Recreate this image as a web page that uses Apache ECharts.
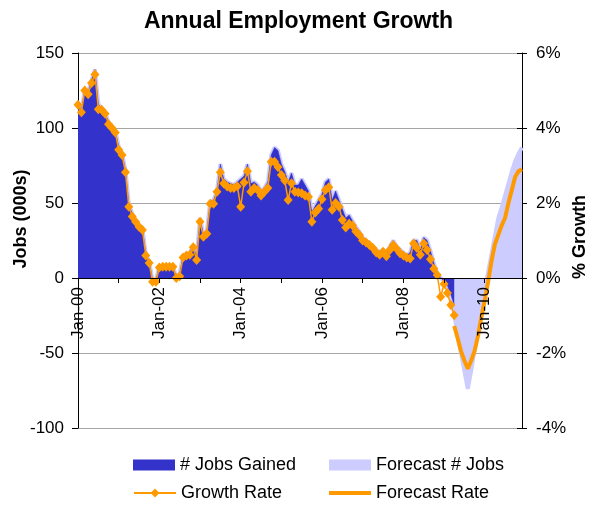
<!DOCTYPE html>
<html><head><meta charset="utf-8">
<script src="https://cdn.jsdelivr.net/npm/echarts@6/dist/echarts.min.js"></script>
<style>html,body{margin:0;padding:0;background:#fff}#c{width:597px;height:506px}</style>
</head><body><div id="c"></div>
<script>
// Categories: monthly Jan-00 .. Dec-10
const monthNames = ['Jan','Feb','Mar','Apr','May','Jun','Jul','Aug','Sep','Oct','Nov','Dec'];
const yearLabels = ['00','01','02','03','04','05','06','07','08','09','10'];
const categories = [];
yearLabels.forEach(y => monthNames.forEach(m => categories.push(m + '-' + y)));

// # Jobs Gained (000s), Jan-00 .. Apr-09
const jobsGained = [
 116,112,125,124,132,139,116,113,110,104,101,98,
 88,83,72,49,43,38,35,33,16,11,-1,-1,
 8,8,8,8,8,1,3,15,16,17,22,14,
 40,29,31,51,52,58,76,66,64,63,62,64,
 66,68,76,63,64,62,58,60,64,82,87,85,
 76,71,64,70,62,62,66,62,58,44,48,52,
 56,64,66,52,58,52,46,40,42,38,34,31,
 27,25,23,21,19,17,19,17,21,25,21,19,
 17,15,17,25,25,19,27,25,18,10,3,0,
 -2,-5,-11,-18
];
// Growth Rate (%), Jan-00 .. Apr-09
const growthRate = [
 4.62,4.42,5.0,4.9,5.2,5.43,4.5,4.49,4.38,4.1,4.0,3.88,
 3.42,3.28,2.82,1.9,1.64,1.5,1.37,1.28,0.6,0.4,-0.1,-0.1,
 0.28,0.3,0.3,0.3,0.3,0.0,0.05,0.55,0.6,0.62,0.82,0.48,
 1.5,1.1,1.18,1.98,1.98,2.3,2.82,2.52,2.44,2.4,2.4,2.45,
 1.9,2.55,2.85,2.3,2.4,2.35,2.2,2.3,2.4,3.1,3.1,2.96,
 2.75,2.6,2.08,2.53,2.3,2.28,2.26,2.2,2.17,1.5,1.75,1.85,
 2.1,2.35,2.42,1.82,2.0,1.9,1.55,1.35,1.45,1.4,1.24,1.15,
 1.0,0.95,0.88,0.8,0.68,0.62,0.7,0.58,0.75,0.88,0.78,0.66,
 0.6,0.55,0.52,0.92,0.8,0.62,0.92,0.75,0.5,0.25,0.08,-0.5,
 -0.16,-0.4,-0.72,-0.99
];
// Forecast # Jobs (000s), Apr-09 .. Dec-10
const forecastJobs = [-24,-38,-50,-62,-74,-62,-48,-34,-20,-8,4,16,28,40,47,55,63,71,78,83,87];
// Forecast Rate (%), Apr-09 .. Dec-10
const forecastRate = [-1.28,-1.6,-1.95,-2.2,-2.42,-2.2,-1.95,-1.55,-1.05,-0.6,-0.1,0.45,0.9,1.15,1.4,1.6,2.0,2.35,2.7,2.85,2.9];

const fcStart = categories.indexOf('Apr-09');
const n = categories.length;
const pad = (arr, start) => { const out = new Array(n).fill(null); arr.forEach((v,i)=>{ out[start+i]=v; }); return out; };
const jobsData = pad(jobsGained, 0);
const rateData = pad(growthRate, 0);
const fcJobsData = pad(jobsGained.slice(0, fcStart).concat(forecastJobs), 0);
const fcRateData = pad(forecastRate, fcStart);

const FONT = 'Liberation Sans, Arial, sans-serif';
const GRID_TOP = 53, GRID_BOTTOM = 78, H = 506;
const plotH = H - GRID_TOP - GRID_BOTTOM;
const zeroOffset = -plotH * (0 - (-100)) / (150 - (-100)); // move x axis up to y=0

const legendText = {fontFamily:FONT, fontSize:18, color:'#000'};
const chart = echarts.init(document.getElementById('c'), null, {renderer:'canvas'});
chart.setOption({
  animation:false,
  backgroundColor:'#fff',
  title:{text:'Annual Employment Growth', left:'center', top:5,
    textStyle:{fontFamily:FONT, fontSize:23, fontWeight:'bold', color:'#000'}},
  grid:{left:78, right:75, top:GRID_TOP, bottom:GRID_BOTTOM, containLabel:false},
  legend:[
    {left:128, top:451, itemWidth:42, itemHeight:11, textStyle:legendText,
     data:[{name:'# Jobs Gained', icon:'rect'}]},
    {left:128, top:479, itemWidth:42, itemHeight:11, textStyle:legendText,
     data:[{name:'Growth Rate'}]},
    {left:324, top:451, itemWidth:42, itemHeight:11, textStyle:legendText,
     data:[{name:'Forecast # Jobs', icon:'rect'}]},
    {left:324, top:479, itemWidth:42, itemHeight:4, textStyle:legendText,
     data:[{name:'Forecast Rate', icon:'rect'}]}
  ],
  graphic:[
    {type:'text', x:21, y:219, rotation:Math.PI/2, z:100,
     style:{text:'Jobs (000s)', font:'bold 18px ' + FONT, fill:'#000', textAlign:'center', textVerticalAlign:'middle'}},
    {type:'text', x:580, y:237, rotation:Math.PI/2, z:100,
     style:{text:'% Growth', font:'bold 18px ' + FONT, fill:'#000', textAlign:'center', textVerticalAlign:'middle'}}
  ],
  xAxis:{type:'category', data:categories, boundaryGap:false, z:10, position:'bottom', offset:zeroOffset,
    axisLine:{onZero:false, lineStyle:{color:'#000', width:1}},
    axisTick:{show:true, length:5, lineStyle:{color:'#000'}, interval:(i)=> i % 12 === 0},
    axisLabel:{rotate:90, margin:9, fontFamily:FONT, fontSize:17, color:'#000',
      interval:(i)=> i % 24 === 0},
    splitLine:{show:false}},
  yAxis:[
    {type:'value', min:-100, max:150, interval:50, position:'left',
     axisLine:{show:true, lineStyle:{color:'#000'}},
     axisTick:{show:true, length:6, lineStyle:{color:'#000'}},
     axisLabel:{fontFamily:FONT, fontSize:17, color:'#000', margin:14},
     splitLine:{show:true, lineStyle:{color:'#a6a6a6', width:1}}},
    {type:'value', min:-4, max:6, interval:2, position:'right',
     axisLine:{show:true, lineStyle:{color:'#000'}},
     axisTick:{show:true, length:5, lineStyle:{color:'#000'}},
     axisLabel:{fontFamily:FONT, fontSize:17, color:'#000', margin:14, formatter:'{value}%'},
     splitLine:{show:false}},
    {type:'value', min:-4, max:6, interval:2, position:'right',
     axisLine:{show:false},
     axisTick:{show:true, inside:true, length:5, lineStyle:{color:'#000'}},
     axisLabel:{show:false},
     splitLine:{show:false}}
  ],
  series:[
    {name:'Forecast # Jobs', type:'line', yAxisIndex:0, data:fcJobsData, z:1,
     symbol:'none', showSymbol:false,
     itemStyle:{color:'#CCCCFF'},
     lineStyle:{color:'#CCCCFF', width:4},
     areaStyle:{color:'#CCCCFF', opacity:1}},
    {name:'# Jobs Gained', type:'line', yAxisIndex:0, data:jobsData, z:2,
     symbol:'none', showSymbol:false,
     itemStyle:{color:'#3333CC'},
     lineStyle:{color:'#3333CC', width:0.5},
     areaStyle:{color:'#3333CC', opacity:1}},
    {name:'Growth Rate', type:'line', yAxisIndex:1, data:rateData, z:4,
     symbol:'diamond', symbolSize:[9,10], showSymbol:true, showAllSymbol:true,
     itemStyle:{color:'#FF9900'},
     lineStyle:{color:'#FF9900', width:1.5}},
    {name:'Forecast Rate', type:'line', yAxisIndex:1, data:fcRateData, z:5,
     symbol:'none', showSymbol:false,
     itemStyle:{color:'#FF9900'},
     lineStyle:{color:'#FF9900', width:4}}
  ]
});
</script></body></html>
